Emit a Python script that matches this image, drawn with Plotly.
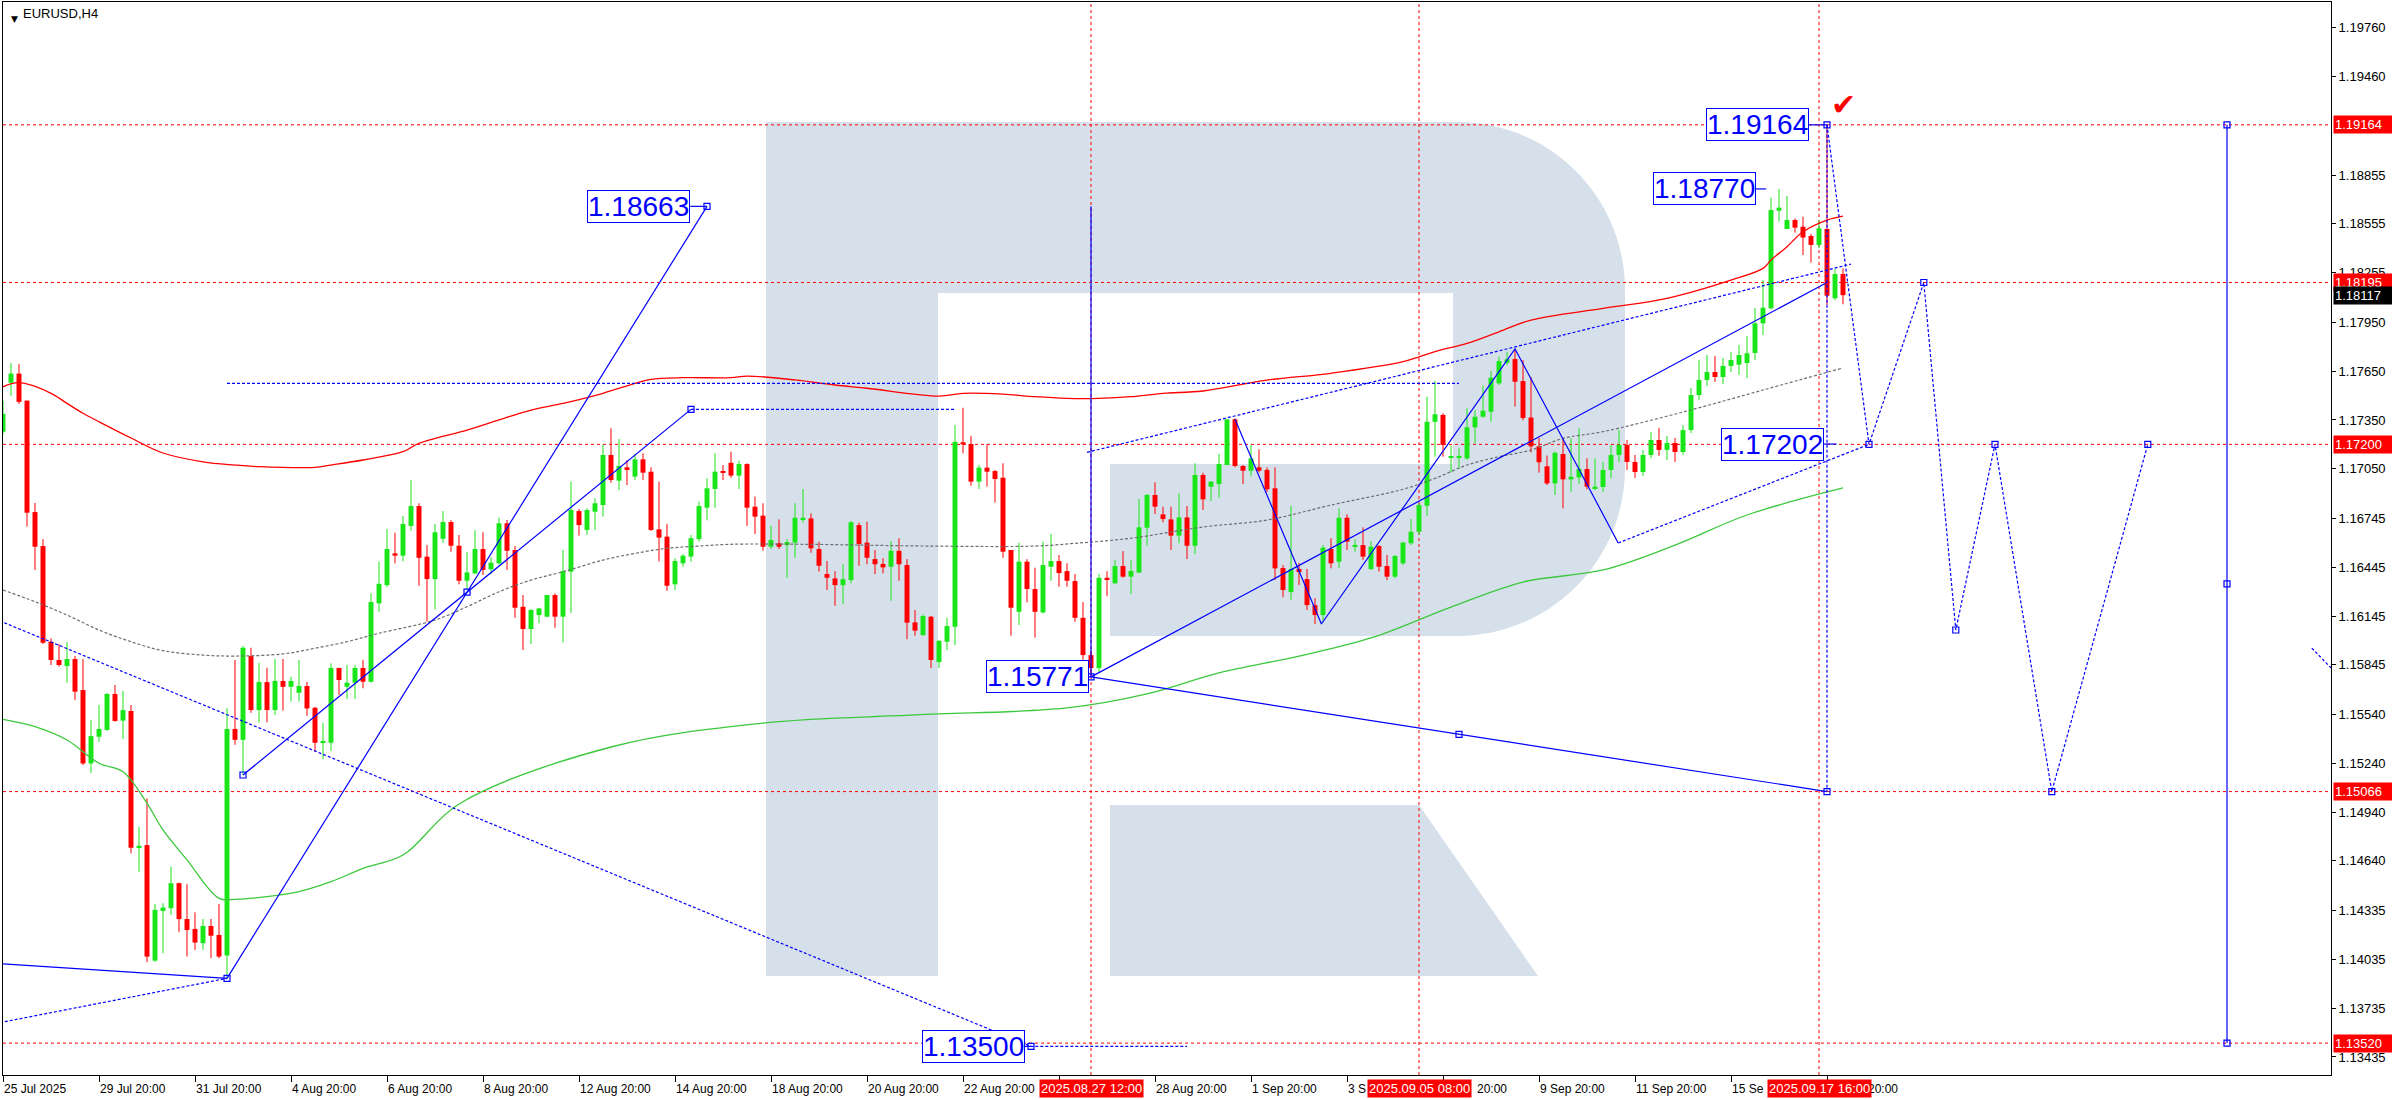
import plotly.graph_objects as go

# ---------------- data (EURUSD H4, bar index 0 = 25 Jul 2025 20:00) ----------------
opens = [1.17278, 1.17579, 1.17635, 1.17469, 1.16784, 1.16575, 1.15987, 1.15875, 1.15838, 1.15881,
         1.15690, 1.15239, 1.15403, 1.15445, 1.15666, 1.15502, 1.15561, 1.14723, 1.14737, 1.14027,
         1.14332, 1.14349, 1.14503, 1.14283, 1.14222, 1.14134, 1.14240, 1.14185, 1.14058, 1.15451,
         1.15384, 1.15899, 1.15567, 1.15739, 1.15567, 1.15746, 1.15710, 1.15673, 1.15715, 1.15581,
         1.15366, 1.15366, 1.15826, 1.15710, 1.15735, 1.15826, 1.15741, 1.16223, 1.16335, 1.16530,
         1.16516, 1.16699, 1.16821, 1.16510, 1.16372, 1.16620, 1.16723, 1.16577, 1.16362, 1.16407,
         1.16557, 1.16432, 1.16469, 1.16715, 1.16551, 1.16202, 1.16065, 1.16151, 1.16141, 1.16274,
         1.16141, 1.16418, 1.16790, 1.16674, 1.16786, 1.16827, 1.17135, 1.16977, 1.17059, 1.17002,
         1.17108, 1.17032, 1.16678, 1.16633, 1.16340, 1.16469, 1.16510, 1.16618, 1.16811, 1.16926,
         1.17032, 1.17087, 1.17008, 1.17079, 1.16817, 1.16762, 1.16571, 1.16592, 1.16580, 1.16596,
         1.16739, 1.16745, 1.16557, 1.16403, 1.16376, 1.16335, 1.16366, 1.16704, 1.16596, 1.16495,
         1.16465, 1.16448, 1.16546, 1.16459, 1.16106, 1.16028, 1.16141, 1.15862, 1.15987, 1.16079,
         1.17213, 1.17202, 1.16971, 1.17057, 1.17036, 1.16995, 1.16551, 1.16171, 1.16479, 1.16311,
         1.16167, 1.16448, 1.16483, 1.16421, 1.16360, 1.16134, 1.15905, 1.15825, 1.16380, 1.16346,
         1.16452, 1.16387, 1.16412, 1.16688, 1.16889, 1.16770, 1.16739, 1.16639, 1.16751, 1.16577,
         1.17012, 1.16940, 1.16956, 1.17073, 1.17354, 1.17067, 1.17038, 1.17059, 1.17043, 1.16930,
         1.16440, 1.16292, 1.16434, 1.16372, 1.16212, 1.16151, 1.16557, 1.16479, 1.16749, 1.16575,
         1.16581, 1.16434, 1.16575, 1.16452, 1.16387, 1.16469, 1.16592, 1.16663, 1.16823, 1.17339,
         1.17381, 1.17120, 1.17120, 1.17114, 1.17305, 1.17370, 1.17401, 1.17575, 1.17702, 1.17725,
         1.17589, 1.17365, 1.17188, 1.17065, 1.16960, 1.17141, 1.16985, 1.16997, 1.17049, 1.16930,
         1.16938, 1.17043, 1.17135, 1.17196, 1.17092, 1.17030, 1.17135, 1.17227, 1.17166, 1.17209,
         1.17153, 1.17288, 1.17503, 1.17596, 1.17645, 1.17614, 1.17682, 1.17690, 1.17700, 1.17762,
         1.17944, 1.18036, 1.18636, 1.18524, 1.18579, 1.18538, 1.18481, 1.18426, 1.18524, 1.18098,
         1.18247]
highs = [1.17467, 1.17699, 1.17694, 1.17469, 1.16840, 1.16618, 1.16008, 1.15973, 1.15984, 1.15899,
         1.15881, 1.15506, 1.15598, 1.15672, 1.15721, 1.15684, 1.15598, 1.14850, 1.15024, 1.14375,
         1.14380, 1.14605, 1.14506, 1.14497, 1.14324, 1.14283, 1.14283, 1.14375, 1.15578, 1.15875,
         1.15961, 1.15950, 1.15858, 1.15827, 1.15881, 1.15881, 1.15772, 1.15875, 1.15741, 1.15587,
         1.15489, 1.15854, 1.15826, 1.15844, 1.15844, 1.15875, 1.16284, 1.16479, 1.16680, 1.16657,
         1.16760, 1.16981, 1.16838, 1.16581, 1.16711, 1.16790, 1.16735, 1.16643, 1.16538, 1.16673,
         1.16660, 1.16506, 1.16749, 1.16735, 1.16575, 1.16274, 1.16188, 1.16196, 1.16274, 1.16284,
         1.16551, 1.16971, 1.16803, 1.16807, 1.16868, 1.17200, 1.17299, 1.17233, 1.17104, 1.17141,
         1.17145, 1.17059, 1.16971, 1.16711, 1.16500, 1.16526, 1.16643, 1.16848, 1.16991, 1.17145,
         1.17073, 1.17155, 1.17100, 1.17084, 1.16879, 1.16838, 1.16699, 1.16739, 1.16618, 1.16838,
         1.16926, 1.16776, 1.16602, 1.16483, 1.16421, 1.16464, 1.16729, 1.16719, 1.16725, 1.16551,
         1.16500, 1.16606, 1.16623, 1.16495, 1.16182, 1.16155, 1.16145, 1.15998, 1.16134, 1.17319,
         1.17425, 1.17252, 1.17073, 1.17200, 1.17043, 1.17084, 1.16551, 1.16596, 1.16495, 1.16442,
         1.16602, 1.16649, 1.16520, 1.16470, 1.16403, 1.16231, 1.15936, 1.16403, 1.16421, 1.16489,
         1.16544, 1.16489, 1.16864, 1.16895, 1.16967, 1.16817, 1.16817, 1.16899, 1.16821, 1.17084,
         1.17026, 1.16975, 1.17141, 1.17354, 1.17360, 1.17073, 1.17196, 1.17170, 1.17059, 1.17059,
         1.16458, 1.16821, 1.16471, 1.16434, 1.16255, 1.16581, 1.16623, 1.16807, 1.16770, 1.16616,
         1.16690, 1.16606, 1.16581, 1.16520, 1.16520, 1.16602, 1.16741, 1.16838, 1.17493, 1.17590,
         1.17391, 1.17192, 1.17176, 1.17422, 1.17411, 1.17561, 1.17651, 1.17739, 1.17770, 1.17787,
         1.17718, 1.17614, 1.17239, 1.17131, 1.17155, 1.17237, 1.17237, 1.17299, 1.17114, 1.17114,
         1.17092, 1.17196, 1.17288, 1.17227, 1.17135, 1.17166, 1.17276, 1.17301, 1.17252, 1.17240,
         1.17319, 1.17547, 1.17719, 1.17749, 1.17743, 1.17731, 1.17768, 1.17811, 1.17866, 1.18038,
         1.18210, 1.18716, 1.18770, 1.18727, 1.18589, 1.18599, 1.18493, 1.18579, 1.19164, 1.18276,
         1.18282]
lows = [1.17265, 1.17499, 1.17448, 1.16694, 1.16428, 1.15973, 1.15844, 1.15834, 1.15735, 1.15629,
        1.15229, 1.15181, 1.15371, 1.15439, 1.15495, 1.15389, 1.14686, 1.14573, 1.14017, 1.14019,
        1.14072, 1.14308, 1.14202, 1.14052, 1.14093, 1.14093, 1.14042, 1.14042, 1.13918, 1.15353,
        1.15168, 1.15550, 1.15491, 1.15491, 1.15537, 1.15563, 1.15619, 1.15619, 1.15532, 1.15311,
        1.15266, 1.15315, 1.15660, 1.15635, 1.15635, 1.15701, 1.15735, 1.16171, 1.16323, 1.16469,
        1.16481, 1.16670, 1.16331, 1.16110, 1.16186, 1.16595, 1.16540, 1.16340, 1.16305, 1.16403,
        1.16397, 1.16403, 1.16463, 1.16428, 1.16134, 1.15936, 1.15973, 1.16100, 1.16137, 1.16073,
        1.15983, 1.16165, 1.16639, 1.16643, 1.16674, 1.16756, 1.16964, 1.16919, 1.16950, 1.16981,
        1.16981, 1.16668, 1.16481, 1.16300, 1.16305, 1.16448, 1.16479, 1.16602, 1.16733, 1.16811,
        1.16981, 1.16995, 1.16926, 1.16699, 1.16649, 1.16546, 1.16557, 1.16557, 1.16380, 1.16503,
        1.16719, 1.16534, 1.16418, 1.16305, 1.16208, 1.16218, 1.16346, 1.16454, 1.16463, 1.16403,
        1.16407, 1.16239, 1.16362, 1.16002, 1.16024, 1.16022, 1.15825, 1.15825, 1.15936, 1.15967,
        1.17145, 1.16946, 1.16926, 1.16940, 1.16842, 1.16503, 1.16024, 1.16090, 1.16229, 1.16012,
        1.16161, 1.16362, 1.16325, 1.16325, 1.16110, 1.15875, 1.15771, 1.15801, 1.16267, 1.16340,
        1.16380, 1.16280, 1.16412, 1.16577, 1.16772, 1.16721, 1.16551, 1.16592, 1.16495, 1.16526,
        1.16797, 1.16852, 1.16872, 1.17073, 1.17059, 1.16956, 1.17003, 1.17028, 1.16907, 1.16366,
        1.16261, 1.16243, 1.16335, 1.16182, 1.16096, 1.16108, 1.16438, 1.16438, 1.16551, 1.16540,
        1.16489, 1.16428, 1.16418, 1.16366, 1.16377, 1.16458, 1.16581, 1.16643, 1.16760, 1.17124,
        1.17124, 1.17028, 1.17049, 1.17104, 1.17207, 1.17366, 1.17339, 1.17565, 1.17688, 1.17432,
        1.17348, 1.17151, 1.17026, 1.16950, 1.16889, 1.16807, 1.16909, 1.16956, 1.16924, 1.16919,
        1.16907, 1.16993, 1.17092, 1.17043, 1.16993, 1.17006, 1.17116, 1.17129, 1.17104, 1.17092,
        1.17135, 1.17270, 1.17473, 1.17559, 1.17584, 1.17571, 1.17645, 1.17627, 1.17608, 1.17719,
        1.17872, 1.18030, 1.18569, 1.18524, 1.18501, 1.18364, 1.18317, 1.18407, 1.18057, 1.18087,
        1.18061]
closes = [1.17387, 1.17635, 1.17461, 1.16780, 1.16571, 1.15981, 1.15875, 1.15844, 1.15881, 1.15680,
          1.15239, 1.15407, 1.15451, 1.15666, 1.15500, 1.15567, 1.14721, 1.14733, 1.14052, 1.14339,
          1.14353, 1.14503, 1.14282, 1.14215, 1.14138, 1.14240, 1.14180, 1.14052, 1.15451, 1.15384,
          1.15950, 1.15567, 1.15739, 1.15567, 1.15746, 1.15710, 1.15746, 1.15715, 1.15577, 1.15366,
          1.15370, 1.15826, 1.15752, 1.15735, 1.15826, 1.15741, 1.16231, 1.16343, 1.16557, 1.16516,
          1.16711, 1.16821, 1.16503, 1.16372, 1.16660, 1.16723, 1.16577, 1.16362, 1.16413, 1.16557,
          1.16428, 1.16473, 1.16715, 1.16546, 1.16196, 1.16065, 1.16182, 1.16192, 1.16274, 1.16141,
          1.16422, 1.16797, 1.16704, 1.16797, 1.16838, 1.17135, 1.16981, 1.17067, 1.17043, 1.17108,
          1.17026, 1.16674, 1.16627, 1.16331, 1.16483, 1.16516, 1.16623, 1.16821, 1.16930, 1.17032,
          1.17028, 1.17008, 1.17079, 1.16811, 1.16756, 1.16571, 1.16612, 1.16571, 1.16600, 1.16749,
          1.16749, 1.16561, 1.16454, 1.16380, 1.16335, 1.16372, 1.16721, 1.16588, 1.16503, 1.16463,
          1.16444, 1.16546, 1.16463, 1.16104, 1.16055, 1.16145, 1.15875, 1.15992, 1.16083, 1.17216,
          1.17200, 1.16971, 1.17057, 1.17032, 1.16987, 1.16540, 1.16196, 1.16479, 1.16311, 1.16171,
          1.16458, 1.16483, 1.16409, 1.16362, 1.16134, 1.15905, 1.15825, 1.16380, 1.16370, 1.16452,
          1.16387, 1.16422, 1.16690, 1.16889, 1.16817, 1.16741, 1.16639, 1.16751, 1.16577, 1.17012,
          1.16862, 1.16971, 1.17079, 1.17354, 1.17067, 1.17038, 1.17114, 1.17038, 1.16924, 1.16438,
          1.16305, 1.16434, 1.16415, 1.16212, 1.16151, 1.16565, 1.16469, 1.16749, 1.16602, 1.16580,
          1.16510, 1.16571, 1.16448, 1.16387, 1.16514, 1.16596, 1.16663, 1.16827, 1.17339, 1.17385,
          1.17196, 1.17125, 1.17129, 1.17305, 1.17370, 1.17407, 1.17610, 1.17712, 1.17723, 1.17585,
          1.17362, 1.17188, 1.17090, 1.16960, 1.17149, 1.16985, 1.17001, 1.17049, 1.16940, 1.16940,
          1.17043, 1.17135, 1.17196, 1.17092, 1.17030, 1.17135, 1.17227, 1.17166, 1.17209, 1.17153,
          1.17288, 1.17503, 1.17596, 1.17645, 1.17614, 1.17682, 1.17719, 1.17749, 1.17760, 1.17944,
          1.18040, 1.18640, 1.18655, 1.18579, 1.18532, 1.18471, 1.18426, 1.18528, 1.18114, 1.18247,
          1.18117]

# moving averages (bar index, price)
ma_red_x = [0, 2, 6, 8, 10, 12, 16, 20, 25, 29, 32, 39, 41, 45, 50, 52, 58, 62, 66, 70, 75, 79, 81, 85, 91, 93, 99,
            104, 108, 117, 120, 125, 129, 133, 137, 141, 145, 150, 158, 166, 175, 179, 183, 187, 191, 200, 208,
            216, 220, 221, 223, 225, 228, 230]
ma_red_y = [1.17554, 1.17579, 1.17514, 1.17452, 1.17391, 1.17339, 1.17239, 1.17147, 1.17093, 1.17073, 1.17063,
            1.17059, 1.17073, 1.17104, 1.17155, 1.17207, 1.17288, 1.17350, 1.17411, 1.17452, 1.17514, 1.17575,
            1.17600, 1.17610, 1.17610, 1.17620, 1.17596, 1.17565, 1.17545, 1.17497, 1.17514, 1.17509, 1.17493,
            1.17483, 1.17483, 1.17493, 1.17514, 1.17528, 1.17595, 1.17637, 1.17708, 1.17770, 1.17821, 1.17892,
            1.17964, 1.18036, 1.18098, 1.18210, 1.18282, 1.18333, 1.18415, 1.18507, 1.18579, 1.18603]
ma_gray_x = [0, 4, 8, 12, 16, 20, 25, 29, 35, 39, 43, 47, 54, 58, 62, 66, 70, 75, 79, 83, 87, 91, 100, 116, 129,
             134, 141, 150, 158, 166, 175, 179, 183, 187, 191, 195, 200, 210, 220, 230]
ma_gray_y = [1.16305, 1.16233, 1.16151, 1.16059, 1.15987, 1.15932, 1.15905, 1.15899, 1.15912, 1.15947, 1.15987,
             1.16039, 1.16120, 1.16202, 1.16294, 1.16366, 1.16417, 1.16489, 1.16530, 1.16561, 1.16575, 1.16586,
             1.16586, 1.16575, 1.16575, 1.16592, 1.16623, 1.16692, 1.16735, 1.16827, 1.16924, 1.16991, 1.17073,
             1.17124, 1.17165, 1.17237, 1.17278, 1.17399, 1.17534, 1.17670]
ma_green_x = [0, 4, 8, 12, 15, 18, 20, 23, 27, 29, 33, 37, 41, 45, 50, 57, 76, 95, 114, 133, 143, 152, 162, 171,
              181, 190, 200, 209, 218, 230]
ma_green_y = [1.15510, 1.15465, 1.15383, 1.15240, 1.15188, 1.14994, 1.14830, 1.14646, 1.14410, 1.14404, 1.14420,
              1.14451, 1.14512, 1.14594, 1.14676, 1.14990, 1.15340, 1.15487, 1.15537, 1.15580, 1.15666, 1.15795,
              1.15899, 1.16010, 1.16200, 1.16354, 1.16428, 1.16581, 1.16766, 1.16932]

# horizontal levels, vertical time markers
red_levels = [1.19164, 1.18195, 1.17200, 1.15066, 1.13520]
vline_bars = [136, 177, 227]
vline_labels = ["2025.08.27 12:00", "2025.09.05 08:00", "2025.09.17 16:00"]
current_price = 1.18117

# axis ticks
y_ticks = [1.19760, 1.19460, 1.18855, 1.18555, 1.18255, 1.17950, 1.17650, 1.17350, 1.17050, 1.16745,
           1.16445, 1.16145, 1.15845, 1.15540, 1.15240, 1.14940, 1.14640, 1.14335, 1.14035, 1.13735, 1.13435]
x_tick_bars = [0, 12, 24, 36, 48, 60, 72, 84, 96, 108, 120, 132, 144, 156, 168, 180, 192, 204, 216, 228]
# visible label text (left-aligned at the tick); parts hidden by the red time boxes are left out
x_label_bars = [0, 12, 24, 36, 48, 60, 72, 84, 96, 108, 120, 144, 156, 168, 192, 204, 216]
x_label_texts = ["25 Jul 2025", "29 Jul 20:00", "31 Jul 20:00", "4 Aug 20:00", "6 Aug 20:00", "8 Aug 20:00",
                 "12 Aug 20:00", "14 Aug 20:00", "18 Aug 20:00", "20 Aug 20:00", "22 Aug 20:00",
                 "28 Aug 20:00", "1 Sep 20:00", "3 S", "9 Sep 20:00", "11 Sep 20:00", "15 Se"]
# right-hand remainders of labels partly covered ("5 Sep 20:00", "17 Sep 20:00"), anchored at their right end
x_tail_bars = [188.3, 237.1]
x_tail_texts = ["20:00", "20:00"]

# analyst drawings (bar index, price)
blue_solid = [
    [(-1, 1.14010), (28, 1.13918)],
    [(28, 1.13918), (88, 1.18663)],
    [(30, 1.15168), (86, 1.17415)],
    [(136, 1.15771), (228, 1.15066)],
    [(136, 1.15771), (228, 1.18195)],
    [(154, 1.17354), (164.8, 1.16096), (189, 1.17787), (201.9, 1.16594)],
    [(136, 1.18663), (136, 1.15771)],
    [(278, 1.19164), (278, 1.13520)],
]
blue_dotted = [
    [(-1, 1.13640), (28, 1.13918)],
    [(-1, 1.16127), (128.5, 1.13500), (148, 1.13500)],
    [(86, 1.17415), (119, 1.17415)],
    [(28, 1.17575), (182, 1.17575)],
    [(135.5, 1.17151), (231, 1.18308)],
    [(201.9, 1.16594), (233.25, 1.17200)],
    [(228, 1.19164), (233.25, 1.17200), (240.1, 1.18195), (244.1, 1.16059), (249, 1.17200),
     (256.1, 1.15066), (268.1, 1.17200)],
    [(228, 1.19164), (228, 1.15066)],
    [(288.6, 1.15948), (291, 1.15826)],
]
blue_squares = [(28, 1.13918), (88, 1.18663), (30, 1.15168), (58, 1.16292), (86, 1.17415), (136, 1.15771),
                (182, 1.15418), (228, 1.15066), (228, 1.19164), (233.25, 1.17200), (240.1, 1.18195),
                (244.1, 1.16059), (249, 1.17200), (256.1, 1.15066), (268.1, 1.17200), (278, 1.19164),
                (278, 1.16342), (278, 1.13520), (128.5, 1.13500)]
# price labels: (text, price, right edge bar, connector end bar)
price_labels = [("1.18663", 1.18663, 85.9, 88), ("1.19164", 1.19164, 225.7, 228),
                ("1.18770", 1.18770, 219.1, 220.4), ("1.17202", 1.17202, 227.6, 229.2),
                ("1.15771", 1.15771, 135.7, 136), ("1.13500", 1.13500, 127.7, 128.5)]

# ---------------- geometry of the page ----------------
W, H = 2392, 1100
ML, MR, MT, MB = 3, 61, 2, 25
PW, PH = W - ML - MR, H - MT - MB
X_RANGE = [0, 291]
Y_RANGE = [1.13324, 1.19919]


def px(x):
    return (x - ML) / PW


def py(y):
    return 1 - (y - MT) / PH


UP = "#19e619"
DN = "#ff0000"
BLUE = "#0000ff"
FONT = "Liberation Sans"

fig = go.Figure()

# ---- watermark logo (decoration, paper coordinates) ----
LOGO = "#d6e0eb"


def path(pts):
    s = ""
    for cmd, coords in pts:
        if cmd == "Z":
            s += " Z"
        else:
            s += " " + cmd + " " + " ".join(f"{px(a):.5f},{py(b):.5f}" for a, b in coords)
    return s.strip()


shapes = []
shapes.append(dict(type="path", xref="paper", yref="paper", layer="below", fillcolor=LOGO, line_width=0,
                   path=path([("M", [(766, 122)]), ("L", [(938, 122)]), ("L", [(938, 976)]), ("L", [(766, 976)]), ("Z", [])])))
shapes.append(dict(type="path", xref="paper", yref="paper", layer="below", fillcolor=LOGO, line_width=0,
                   path=path([("M", [(938, 122)]), ("L", [(1457, 122)]),
                              ("C", [(1550, 122), (1625, 197), (1625, 290)]),
                              ("L", [(1625, 468)]),
                              ("C", [(1625, 561), (1550, 636), (1457, 636)]),
                              ("L", [(1110, 636)]), ("L", [(1110, 464)]), ("L", [(1453, 464)]),
                              ("L", [(1453, 293)]), ("L", [(938, 293)]), ("Z", [])])))
shapes.append(dict(type="path", xref="paper", yref="paper", layer="below", fillcolor=LOGO, line_width=0,
                   path=path([("M", [(1110, 805)]), ("L", [(1419, 805)]), ("L", [(1538, 976)]),
                              ("L", [(1110, 976)]), ("Z", [])])))

for lv in red_levels:
    shapes.append(dict(type="line", xref="paper", yref="y", x0=0, x1=1, y0=lv, y1=lv, layer="below",
                       line=dict(color="#ff0000", width=1, dash="3px,3px")))
for b in vline_bars:
    shapes.append(dict(type="line", xref="x", yref="paper", x0=b, x1=b, y0=0, y1=1, layer="below",
                       line=dict(color="#ff0000", width=1, dash="3px,3px")))

# ---- candles ----
idx = list(range(len(opens)))
for up in (True, False):
    sel = [i for i in idx if (closes[i] >= opens[i]) == up]
    col = UP if up else DN
    wx, wy = [], []
    for i in sel:
        wx += [i, i, None]
        wy += [lows[i], highs[i], None]
    fig.add_trace(go.Scatter(x=wx, y=wy, mode="lines", line=dict(color=col, width=1), hoverinfo="skip"))
    fig.add_trace(go.Bar(x=sel,
                         y=[max(abs(closes[i] - opens[i]), 0.00007) for i in sel],
                         base=[min(opens[i], closes[i]) for i in sel],
                         width=0.62, marker=dict(color=col, line_width=0), hoverinfo="skip"))

# ---- moving averages ----
fig.add_trace(go.Scatter(x=ma_gray_x, y=ma_gray_y, mode="lines", line=dict(color="#6e6e6e", width=1.2, dash="3px,2px", shape="spline")))
fig.add_trace(go.Scatter(x=ma_red_x, y=ma_red_y, mode="lines", line=dict(color="#ff0000", width=1.3, shape="spline")))
fig.add_trace(go.Scatter(x=ma_green_x, y=ma_green_y, mode="lines", line=dict(color="#3cc83c", width=1.3, shape="spline")))

# ---- blue drawings ----


def segs(lst):
    xs, ys = [], []
    for poly in lst:
        for (a, b) in poly:
            xs.append(a)
            ys.append(b)
        xs.append(None)
        ys.append(None)
    return xs, ys


sx, sy = segs(blue_solid)
fig.add_trace(go.Scatter(x=sx, y=sy, mode="lines", line=dict(color=BLUE, width=1.2), hoverinfo="skip"))
dx, dy = segs(blue_dotted)
fig.add_trace(go.Scatter(x=dx, y=dy, mode="lines", line=dict(color=BLUE, width=1.2, dash="3px,2px"), hoverinfo="skip"))
conn = [[(lab[2], lab[1]), (lab[3], lab[1])] for lab in price_labels]
cx, cy = segs(conn)
fig.add_trace(go.Scatter(x=cx, y=cy, mode="lines", line=dict(color=BLUE, width=1.2), hoverinfo="skip"))
fig.add_trace(go.Scatter(x=[p[0] for p in blue_squares], y=[p[1] for p in blue_squares], mode="markers",
                         marker=dict(symbol="square-open", size=6, color=BLUE, line=dict(width=1.2, color=BLUE)),
                         hoverinfo="skip"))

annotations = []
for text, price, right_bar, _ in price_labels:
    annotations.append(dict(x=right_bar, y=price, xref="x", yref="y", text=text, showarrow=False,
                            xanchor="right", yanchor="middle",
                            font=dict(family=FONT, size=28, color=BLUE),
                            bgcolor="white", bordercolor=BLUE, borderwidth=1, borderpad=0))

# check mark
annotations.append(dict(x=230, y=1.19290, xref="x", yref="y", text="\u2714", showarrow=False,
                        font=dict(family="DejaVu Sans", size=30, color="#ff0000")))

# symbol title
annotations.append(dict(x=px(9), y=py(12), xref="paper", yref="paper", text="\u25bc", showarrow=False,
                        font=dict(family="DejaVu Sans", size=9, color="black")))
annotations.append(dict(x=px(21), y=py(13), xref="paper", yref="paper", text="EURUSD,H4", showarrow=False,
                        xanchor="left", yanchor="middle", font=dict(family=FONT, size=13, color="black")))

# x tick labels (left aligned like the terminal)
for b, t in zip(x_label_bars, x_label_texts):
    annotations.append(dict(x=b, y=0, xref="x", yref="paper", text=t, showarrow=False,
                            xanchor="left", yanchor="top", yshift=-5, xshift=-1,
                            font=dict(family=FONT, size=12, color="black")))
for b, t in zip(x_tail_bars, x_tail_texts):
    annotations.append(dict(x=b, y=0, xref="x", yref="paper", text=t, showarrow=False,
                            xanchor="right", yanchor="top", yshift=-5,
                            font=dict(family=FONT, size=12, color="black")))
# red time labels
for b, t in zip(vline_bars, vline_labels):
    annotations.append(dict(x=b, y=0, xref="x", yref="paper", text=t, showarrow=False,
                            xanchor="center", yanchor="top", yshift=-4,
                            font=dict(family=FONT, size=13, color="white"), bgcolor="#ff0000", borderpad=1))
# price labels on the right axis
for lv in red_levels:
    annotations.append(dict(x=1, y=lv, xref="paper", yref="y", text=f"{lv:.5f}", showarrow=False,
                            xanchor="left", yanchor="middle", xshift=2, width=56, align="left",
                            font=dict(family=FONT, size=13, color="white"), bgcolor="#ff0000", borderpad=1))
annotations.append(dict(x=1, y=current_price, xref="paper", yref="y", text=f"{current_price:.5f}", showarrow=False,
                        xanchor="left", yanchor="middle", xshift=2, width=56, align="left",
                        font=dict(family=FONT, size=13, color="white"), bgcolor="#000000", borderpad=1))

fig.update_layout(
    width=W, height=H, margin=dict(l=ML, r=MR, t=MT, b=MB, pad=0, autoexpand=False),
    plot_bgcolor="white", paper_bgcolor="white", showlegend=False, barmode="overlay",
    shapes=shapes, annotations=annotations,
    xaxis=dict(range=X_RANGE, showgrid=False, zeroline=False, showline=True, linecolor="black", linewidth=1,
               mirror=True, ticks="outside", ticklen=6, tickcolor="black", tickvals=x_tick_bars,
               ticktext=[""] * len(x_tick_bars), fixedrange=True, automargin=False),
    yaxis=dict(range=Y_RANGE, side="right", showgrid=False, zeroline=False, showline=True, linecolor="black",
               linewidth=1, mirror=True, ticks="outside", ticklen=4, tickcolor="black", tickvals=y_ticks,
               ticktext=[f"{v:.5f}" for v in y_ticks], tickfont=dict(family=FONT, size=13, color="black"),
               fixedrange=True, automargin=False),
)

fig.write_html("out.html", config={"displayModeBar": False},
               post_script="document.body.style.margin='0px';document.body.style.overflow='hidden';")
